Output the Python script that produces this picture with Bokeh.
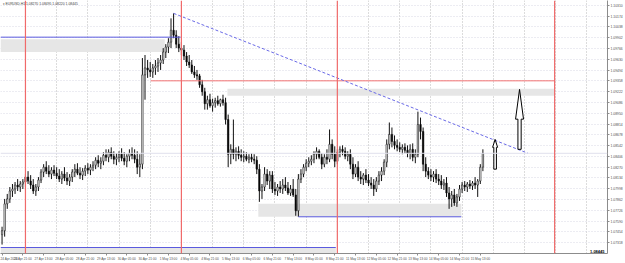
from bokeh.plotting import figure
from bokeh.models import (FixedTicker, LinearAxis, Grid, Label, Span, Range1d,
                          NumeralTickFormatter, ColumnDataSource)
from bokeh.embed import file_html
from bokeh.resources import INLINE

# ---------------- data: EURUSD 2-hour bars, 24 Apr 2020 -> 15 May 2020 ----------------
open_ = [1.07420, 1.07470, 1.07808, 1.07870, 1.07970, 1.07995, 1.08045, 1.08020, 1.08058,
         1.08083, 1.08145, 1.08095, 1.08045, 1.07970, 1.08020, 1.08108, 1.08208, 1.08270, 1.08220, 1.08183, 1.08233,
         1.08195, 1.08158, 1.08120, 1.08183, 1.08133, 1.08095, 1.08145, 1.08208, 1.08245, 1.08195, 1.08170, 1.08220,
         1.08258, 1.08233, 1.08270, 1.08295, 1.08358, 1.08320, 1.08345, 1.08420, 1.08395, 1.08458, 1.08408, 1.08370,
         1.08395, 1.08433, 1.08383, 1.08345, 1.08408, 1.08445, 1.08420, 1.08370, 1.08270, 1.08308, 1.09433, 1.09520,
         1.09495, 1.09470, 1.09520, 1.09545, 1.09583, 1.09620, 1.09720, 1.09783, 1.09845, 1.09995, 1.09933, 1.09820,
         1.09770, 1.09745, 1.09670, 1.09595, 1.09558, 1.09470, 1.09433, 1.09420, 1.09308, 1.09220, 1.09070, 1.09120,
         1.09045, 1.09083, 1.09108, 1.09070, 1.09120, 1.09083, 1.08870, 1.08433, 1.08495, 1.08433, 1.08470, 1.08420,
         1.08395, 1.08408, 1.08370, 1.08395, 1.08370, 1.08358, 1.08245, 1.07970, 1.08020, 1.08183, 1.08095, 1.08170,
         1.07995, 1.07970, 1.08020, 1.07995, 1.08045, 1.08008, 1.07945, 1.07995, 1.07920, 1.07720, 1.08120, 1.08183,
         1.08270, 1.08320, 1.08345, 1.08370, 1.08433, 1.08470, 1.08395, 1.08308, 1.08395, 1.08370, 1.08558, 1.08433,
         1.08345, 1.08458, 1.08495, 1.08470, 1.08408, 1.08433, 1.08308, 1.08183, 1.08270, 1.08145, 1.08120, 1.08170,
         1.08108, 1.08070, 1.08045, 1.07995, 1.08095, 1.08170, 1.08220, 1.08333, 1.08558, 1.08683, 1.08595, 1.08545,
         1.08520, 1.08495, 1.08520, 1.08483, 1.08445, 1.08495, 1.08395, 1.08433, 1.08808, 1.08720, 1.08308, 1.08220,
         1.08170, 1.08145, 1.08183, 1.08120, 1.08095, 1.08045, 1.08070, 1.07945, 1.07870, 1.07920, 1.07820, 1.07895,
         1.07995, 1.08045, 1.08020, 1.08058, 1.08033, 1.08070, 1.08045, 1.08095, 1.08270]
high = [1.07520, 1.07870, 1.07933, 1.08020, 1.08058, 1.08083, 1.08120, 1.08095, 1.08120,
        1.08183, 1.08220, 1.08170, 1.08120, 1.08058, 1.08145, 1.08245, 1.08308, 1.08345, 1.08295, 1.08270, 1.08295,
        1.08270, 1.08245, 1.08220, 1.08270, 1.08208, 1.08183, 1.08245, 1.08308, 1.08320, 1.08270, 1.08258, 1.08295,
        1.08320, 1.08308, 1.08345, 1.08395, 1.08420, 1.08395, 1.08458, 1.08495, 1.08495, 1.08520, 1.08470, 1.08445,
        1.08470, 1.08508, 1.08458, 1.08433, 1.08495, 1.08520, 1.08495, 1.08470, 1.08433, 1.09645, 1.09683, 1.09620,
        1.09595, 1.09570, 1.09620, 1.09645, 1.09683, 1.09770, 1.09820, 1.09895, 1.10145, 1.10208, 1.09995, 1.09920,
        1.09845, 1.09808, 1.09720, 1.09683, 1.09620, 1.09545, 1.09495, 1.09445, 1.09370, 1.09270, 1.09170, 1.09195,
        1.09133, 1.09145, 1.09170, 1.09133, 1.09183, 1.09145, 1.08933, 1.08558, 1.08870, 1.08520, 1.08533, 1.08495,
        1.08470, 1.08458, 1.08433, 1.08445, 1.08433, 1.08408, 1.08308, 1.08058, 1.08270, 1.08245, 1.08220, 1.08220,
        1.08083, 1.08058, 1.08095, 1.08120, 1.08145, 1.08083, 1.08045, 1.08120, 1.07995, 1.08183, 1.08245, 1.08308,
        1.08370, 1.08395, 1.08420, 1.08470, 1.08520, 1.08495, 1.08445, 1.08433, 1.08495, 1.08745, 1.08620, 1.08533,
        1.08495, 1.08533, 1.08545, 1.08520, 1.08470, 1.08495, 1.08395, 1.08308, 1.08345, 1.08220, 1.08195, 1.08245,
        1.08183, 1.08145, 1.08120, 1.08145, 1.08220, 1.08270, 1.08370, 1.08620, 1.08833, 1.08770, 1.08670, 1.08620,
        1.08583, 1.08558, 1.08570, 1.08545, 1.08558, 1.08570, 1.08495, 1.08970, 1.08895, 1.08770, 1.08395, 1.08270,
        1.08245, 1.08220, 1.08245, 1.08183, 1.08170, 1.08120, 1.08145, 1.08020, 1.07970, 1.07995, 1.07933, 1.08045,
        1.08083, 1.08095, 1.08083, 1.08108, 1.08095, 1.08145, 1.08120, 1.08308, 1.08495]
low = [1.07295, 1.07395, 1.07745, 1.07820, 1.07895, 1.07933, 1.07970, 1.07958, 1.07995,
       1.08020, 1.08058, 1.07995, 1.07933, 1.07908, 1.07970, 1.08070, 1.08145, 1.08183, 1.08145, 1.08120, 1.08158,
       1.08120, 1.08083, 1.08058, 1.08095, 1.08045, 1.08033, 1.08083, 1.08145, 1.08170, 1.08120, 1.08108, 1.08158,
       1.08183, 1.08170, 1.08220, 1.08245, 1.08270, 1.08245, 1.08295, 1.08345, 1.08333, 1.08370, 1.08308, 1.08295,
       1.08333, 1.08345, 1.08295, 1.08270, 1.08345, 1.08370, 1.08320, 1.08183, 1.08145, 1.08245, 1.09120, 1.09395,
       1.09408, 1.09395, 1.09433, 1.09470, 1.09495, 1.09570, 1.09645, 1.09708, 1.09770, 1.09895, 1.09770, 1.09720,
       1.09683, 1.09620, 1.09545, 1.09520, 1.09445, 1.09395, 1.09370, 1.09270, 1.09170, 1.08995, 1.08995, 1.09020,
       1.08970, 1.09020, 1.09045, 1.09033, 1.09045, 1.08808, 1.08270, 1.08308, 1.08370, 1.08345, 1.08370, 1.08345,
       1.08333, 1.08345, 1.08320, 1.08333, 1.08308, 1.08183, 1.07833, 1.07870, 1.07970, 1.08045, 1.07995, 1.07945,
       1.07920, 1.07908, 1.07945, 1.07933, 1.07970, 1.07920, 1.07908, 1.07895, 1.07658, 1.07645, 1.08070, 1.08145,
       1.08220, 1.08270, 1.08295, 1.08320, 1.08370, 1.08370, 1.08245, 1.08270, 1.08308, 1.08333, 1.08370, 1.08270,
       1.08308, 1.08395, 1.08420, 1.08370, 1.08345, 1.08245, 1.08120, 1.08145, 1.08095, 1.08058, 1.08045, 1.08070,
       1.08033, 1.07995, 1.07908, 1.07958, 1.08045, 1.08095, 1.08170, 1.08270, 1.08495, 1.08520, 1.08495, 1.08470,
       1.08458, 1.08433, 1.08445, 1.08395, 1.08370, 1.08345, 1.08320, 1.08395, 1.08620, 1.08220, 1.08145, 1.08120,
       1.08095, 1.08083, 1.08070, 1.08045, 1.07995, 1.07983, 1.07895, 1.07745, 1.07770, 1.07783, 1.07770, 1.07845,
       1.07945, 1.07970, 1.07958, 1.07995, 1.07983, 1.07995, 1.07895, 1.08058, 1.08220]
close = [1.07470, 1.07808, 1.07870, 1.07970, 1.07995, 1.08045, 1.08020, 1.08058, 1.08083,
         1.08145, 1.08095, 1.08045, 1.07970, 1.08020, 1.08108, 1.08208, 1.08270, 1.08220, 1.08183, 1.08233, 1.08195,
         1.08158, 1.08120, 1.08183, 1.08133, 1.08095, 1.08145, 1.08208, 1.08245, 1.08195, 1.08170, 1.08220, 1.08258,
         1.08233, 1.08270, 1.08295, 1.08358, 1.08320, 1.08345, 1.08420, 1.08395, 1.08458, 1.08408, 1.08370, 1.08395,
         1.08433, 1.08383, 1.08345, 1.08408, 1.08445, 1.08420, 1.08370, 1.08270, 1.08308, 1.09433, 1.09520, 1.09495,
         1.09470, 1.09520, 1.09545, 1.09583, 1.09620, 1.09720, 1.09783, 1.09845, 1.09995, 1.09933, 1.09820, 1.09770,
         1.09745, 1.09670, 1.09595, 1.09558, 1.09470, 1.09433, 1.09420, 1.09308, 1.09220, 1.09070, 1.09120, 1.09045,
         1.09083, 1.09108, 1.09070, 1.09120, 1.09083, 1.08870, 1.08433, 1.08495, 1.08433, 1.08470, 1.08420, 1.08395,
         1.08408, 1.08370, 1.08395, 1.08370, 1.08358, 1.08245, 1.07970, 1.08020, 1.08183, 1.08095, 1.08170, 1.07995,
         1.07970, 1.08020, 1.07995, 1.08045, 1.08008, 1.07945, 1.07995, 1.07920, 1.07720, 1.08120, 1.08183, 1.08270,
         1.08320, 1.08345, 1.08370, 1.08433, 1.08470, 1.08395, 1.08308, 1.08395, 1.08370, 1.08558, 1.08433, 1.08345,
         1.08458, 1.08495, 1.08470, 1.08408, 1.08433, 1.08308, 1.08183, 1.08270, 1.08145, 1.08120, 1.08170, 1.08108,
         1.08070, 1.08045, 1.07995, 1.08095, 1.08170, 1.08220, 1.08333, 1.08558, 1.08683, 1.08595, 1.08545, 1.08520,
         1.08495, 1.08520, 1.08483, 1.08445, 1.08495, 1.08395, 1.08433, 1.08808, 1.08720, 1.08308, 1.08220, 1.08170,
         1.08145, 1.08183, 1.08120, 1.08095, 1.08045, 1.08070, 1.07945, 1.07870, 1.07920, 1.07820, 1.07895, 1.07995,
         1.08045, 1.08020, 1.08058, 1.08033, 1.08070, 1.08045, 1.08095, 1.08270, 1.08445]
bar = list(range(len(close)))

# time-axis labels (bar index -> text)
x_tick_bars = [0, 8, 16, 24, 32, 40, 48, 56, 64, 72, 80, 88, 96, 104, 112, 120,
               128, 136, 144, 152, 160, 168, 176, 184]
x_tick_labels = ["24 Apr 2020", "24 Apr 21:00", "27 Apr 13:00", "28 Apr 05:00", "28 Apr 21:00",
                 "29 Apr 13:00", "30 Apr 05:00", "30 Apr 21:00", "1 May 13:00", "4 May 05:00",
                 "4 May 21:00", "5 May 13:00", "6 May 05:00", "6 May 21:00", "7 May 13:00",
                 "8 May 05:00", "8 May 21:00", "11 May 13:00", "12 May 05:00", "12 May 21:00",
                 "13 May 13:00", "14 May 05:00", "14 May 21:00", "15 May 13:00"]
day_grid_bars = [21, 33, 45, 57, 81, 93, 105, 117, 141, 153, 165, 177,
                 189, 201, 213, 225]
week_start_bars = [9, 69, 129]

price_ticks = [1.10310, 1.10174, 1.10038, 1.09902, 1.09766, 1.09630, 1.09494, 1.09358,
               1.09222, 1.09086, 1.08950, 1.08814, 1.08678, 1.08542, 1.08406, 1.08270,
               1.08134, 1.07998, 1.07862, 1.07726, 1.07590, 1.07454, 1.07318, 1.07182]

# drawn objects
zone_left = [-0.6, 86.7, 98.6, -0.6]
zone_right = [62.6, 212.6, 176.7, 128.4]
zone_top = [1.09883, 1.09258, 1.07808, 1.07258]
zone_bottom = [1.09720, 1.09170, 1.07645, 1.07150]
blue_line_start = [-0.6, 114.0, -0.6]
blue_line_end = [68.7, 176.7, 128.4]
blue_line_price = [1.09908, 1.07645, 1.07258]
red_hline_start = [57.2]
red_hline_end = [212.6]
red_hline_price = [1.09358]
red_vline_extra = [212.6]
trend_x = [66.0, 202.3]
trend_price = [1.10208, 1.08445]
arrow_bar = [189.7, 199.1]
arrow_tip = [1.08620, 1.09250]
arrow_tail = [1.08245, 1.08495]
last_price = 1.08445
symbol_text = "EURUSD,H1  1.08270 1.08495 1.08220 1.08445"

# ---------------- figure ----------------
X0, X1 = -0.6, 232.94
Y0, Y1 = 1.071825, 1.103700
p = figure(width=625, height=263, output_backend="svg", toolbar_location=None,
           x_range=Range1d(X0, X1), y_range=Range1d(Y0, Y1),
           x_axis_location=None, y_axis_location=None,
           min_border_left=0, min_border_top=0, min_border_right=15, min_border_bottom=8)
p.outline_line_color = None
p.background_fill_color = "white"
p.border_fill_color = "white"
p.xgrid.visible = False
p.ygrid.visible = False

FONT = "Liberation Sans"

# axes
ax = LinearAxis(ticker=FixedTicker(ticks=x_tick_bars),
                major_label_overrides={b: t for b, t in zip(x_tick_bars, x_tick_labels)})
ax.axis_line_color = "#8c8c8c"
ax.major_tick_line_color = "#8c8c8c"
ax.major_tick_out = 2
ax.major_tick_in = 0
ax.minor_tick_out = 0
ax.minor_tick_in = 0
ax.major_label_standoff = 1
ax.major_label_text_font = FONT
ax.major_label_text_font_size = "3.2px"
ax.major_label_text_color = "#505050"
ax.major_label_text_align = "left"
p.add_layout(ax, "below")

ay = LinearAxis(ticker=FixedTicker(ticks=price_ticks),
                formatter=NumeralTickFormatter(format="0.00000"))
ay.axis_line_color = "#8c8c8c"
ay.major_tick_line_color = "#8c8c8c"
ay.major_tick_out = 2
ay.major_tick_in = 0
ay.minor_tick_out = 0
ay.minor_tick_in = 0
ay.major_label_standoff = 1
ay.major_label_text_font = FONT
ay.major_label_text_font_size = "3.4px"
ay.major_label_text_color = "#505050"
p.add_layout(ay, "right")

# grids (daily separators, dotted)
p.add_layout(Grid(dimension=0, ticker=FixedTicker(ticks=day_grid_bars),
                  grid_line_color="#b8b8b8", grid_line_dash="1 2", grid_line_width=1))
p.add_layout(Grid(dimension=1, ticker=FixedTicker(ticks=price_ticks),
                  grid_line_color="#d8d8e4", grid_line_dash="1 2", grid_line_width=1))

# zones
p.quad(left=zone_left, right=zone_right, top=zone_top, bottom=zone_bottom,
       fill_color="#e6e6e6", line_color=None)

# bid line
p.add_layout(Span(location=last_price, dimension="width", line_color="#e0e0ec", line_width=1))

# weekly separators (red)
for b in week_start_bars + red_vline_extra:
    p.add_layout(Span(location=b, dimension="height", line_color="#f06a6a", line_width=1.2))

# candles
src = ColumnDataSource(dict(bar=bar, open=open_, high=high, low=low, close=close,
                            top=[max(o, c) for o, c in zip(open_, close)],
                            bottom=[min(o, c) for o, c in zip(open_, close)],
                            fill=["white" if c >= o else "black" for o, c in zip(open_, close)]))
p.segment(x0="bar", y0="high", x1="bar", y1="low", source=src, line_color="#101010", line_width=1)
p.vbar(x="bar", width=0.55, top="top", bottom="bottom", fill_color="fill",
       line_color="#101010", line_width=0.6, source=src)

# horizontal lines
p.segment(x0=blue_line_start, y0=blue_line_price, x1=blue_line_end, y1=blue_line_price,
          line_color="#5a5ade", line_width=1)
p.segment(x0=red_hline_start, y0=red_hline_price, x1=red_hline_end, y1=red_hline_price,
          line_color="#f27474", line_width=1)

# trend line
p.line(x=trend_x, y=trend_price, line_color="#6a6ae6", line_width=1, line_dash="3 2")

# arrows (block arrows, white with black outline)
head_len = [0.00100, 0.00375]
head_half = [0.96, 1.53]
shaft_half = [0.50, 0.62]
axs, ays = [], []
for xb, tip, tail, hl, hh, sh in zip(arrow_bar, arrow_tip, arrow_tail, head_len, head_half, shaft_half):
    base = tip - hl
    axs.append([xb - sh, xb - sh, xb - hh, xb, xb + hh, xb + sh, xb + sh])
    ays.append([tail, base, base, tip, base, base, tail])
p.patches(xs=axs, ys=ays, fill_color="white", line_color="black", line_width=1)

# symbol text top-left
p.add_layout(Label(x=X0, y=Y1, x_offset=2, y_offset=-1, text="\u25be " + symbol_text,
                   text_font=FONT, text_font_size="3.4px", text_color="#404040",
                   text_baseline="top", text_align="left"))

# current price tag on the price axis
p.add_layout(Label(x=X1, y=last_price, x_offset=1, text=f"{last_price:.5f}",
                   text_font=FONT, text_font_size="3.4px", text_color="white",
                   text_baseline="middle", text_align="left",
                   background_fill_color="black"))

# last price text bottom-right
p.add_layout(Label(x=X1, y=Y0, x_offset=-3, y_offset=1, text=f"{last_price:.5f}",
                   text_font=FONT, text_font_size="4px", text_font_style="bold",
                   text_color="black", text_baseline="bottom", text_align="right"))

open("out.html", "w").write(file_html(p, INLINE))
